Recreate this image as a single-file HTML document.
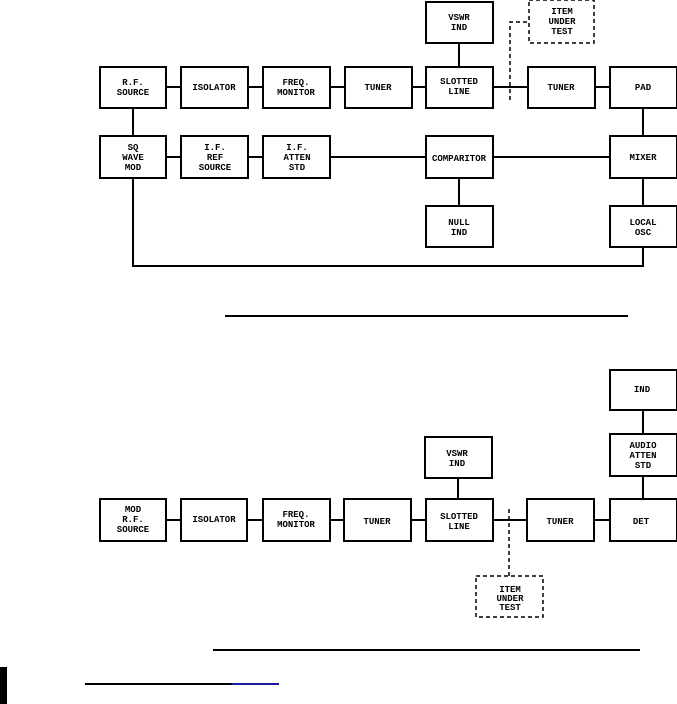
<!DOCTYPE html>
<html><head><style>body{margin:0;background:#fff}svg{display:block}text{font-family:"Liberation Mono",monospace;font-weight:bold;font-size:9px;text-anchor:middle;fill:#000}</style></head>
<body>
<svg width="677" height="704" viewBox="0 0 677 704" xmlns="http://www.w3.org/2000/svg">
<g fill="none" stroke="#000" stroke-width="2">
<rect x="100" y="67" width="66" height="41"/>
<rect x="181" y="67" width="67" height="41"/>
<rect x="263" y="67" width="67" height="41"/>
<rect x="345" y="67" width="67" height="41"/>
<rect x="426" y="67" width="67" height="41"/>
<rect x="528" y="67" width="67" height="41"/>
<rect x="610" y="67" width="67" height="41"/>
<rect x="426" y="2" width="67" height="41"/>
<rect x="100" y="136" width="66" height="42"/>
<rect x="181" y="136" width="67" height="42"/>
<rect x="263" y="136" width="67" height="42"/>
<rect x="426" y="136" width="67" height="42"/>
<rect x="610" y="136" width="67" height="42"/>
<rect x="426" y="206" width="67" height="41"/>
<rect x="610" y="206" width="67" height="41"/>
<path d="M166 87H181M248 87H263M330 87H345M412 87H426M493 87H528M595 87H610M459 43V67M133 108V136M643 108V136M166 157H181M248 157H263M330 157H426M493 157H610M459 178V206M643 178V206M133 178V266H643V247"/>
<rect x="100" y="499" width="66" height="42"/>
<rect x="181" y="499" width="66" height="42"/>
<rect x="263" y="499" width="67" height="42"/>
<rect x="344" y="499" width="67" height="42"/>
<rect x="426" y="499" width="67" height="42"/>
<rect x="527" y="499" width="67" height="42"/>
<rect x="610" y="499" width="67" height="42"/>
<rect x="425" y="437" width="67" height="41"/>
<rect x="610" y="370" width="67" height="40"/>
<rect x="610" y="434" width="67" height="42"/>
<path d="M166 520H181M247 520H263M330 520H344M411 520H426M493 520H527M594 520H610M458 478V500M643 410V434M643 476V499"/>
</g>
<g fill="none" stroke="#000" stroke-width="1.5" stroke-dasharray="4,3">
<rect x="529" y="0" width="65" height="43"/>
<path d="M510 100V22H529"/>
<rect x="476" y="576" width="67" height="41"/>
<path d="M509 509V576"/>
</g>
<g stroke="#000" stroke-width="2">
<path d="M225 316H628M213 650H640M85 684H232"/>
<path d="M232 684H279" stroke="#1a1aa0"/>
</g>
<rect x="0" y="667" width="7" height="37" fill="#000"/>
<text x="133" y="85">R.F.</text><text x="133" y="95">SOURCE</text>
<text x="214" y="90">ISOLATOR</text>
<text x="296" y="85">FREQ.</text><text x="296" y="95">MONITOR</text>
<text x="378" y="90">TUNER</text>
<text x="459" y="84">SLOTTED</text><text x="459" y="94">LINE</text>
<text x="561" y="90">TUNER</text>
<text x="643" y="90">PAD</text>
<text x="459" y="20">VSWR</text><text x="459" y="30">IND</text>
<text x="562" y="14">ITEM</text><text x="562" y="24">UNDER</text><text x="562" y="34">TEST</text>
<text x="133" y="150">SQ</text><text x="133" y="160">WAVE</text><text x="133" y="170">MOD</text>
<text x="215" y="150">I.F.</text><text x="215" y="160">REF</text><text x="215" y="170">SOURCE</text>
<text x="297" y="150">I.F.</text><text x="297" y="160">ATTEN</text><text x="297" y="170">STD</text>
<text x="459" y="161">COMPARITOR</text>
<text x="643" y="160">MIXER</text>
<text x="459" y="225">NULL</text><text x="459" y="235">IND</text>
<text x="643" y="225">LOCAL</text><text x="643" y="235">OSC</text>
<text x="133" y="512">MOD</text><text x="133" y="522">R.F.</text><text x="133" y="532">SOURCE</text>
<text x="214" y="522">ISOLATOR</text>
<text x="296" y="517">FREQ.</text><text x="296" y="527">MONITOR</text>
<text x="377" y="524">TUNER</text>
<text x="459" y="519">SLOTTED</text><text x="459" y="529">LINE</text>
<text x="560" y="524">TUNER</text>
<text x="641" y="524">DET</text>
<text x="457" y="456">VSWR</text><text x="457" y="466">IND</text>
<text x="642" y="392">IND</text>
<text x="643" y="448">AUDIO</text><text x="643" y="458">ATTEN</text><text x="643" y="468">STD</text>
<text x="510" y="592">ITEM</text><text x="510" y="601">UNDER</text><text x="510" y="610">TEST</text>
</svg>
</body></html>
